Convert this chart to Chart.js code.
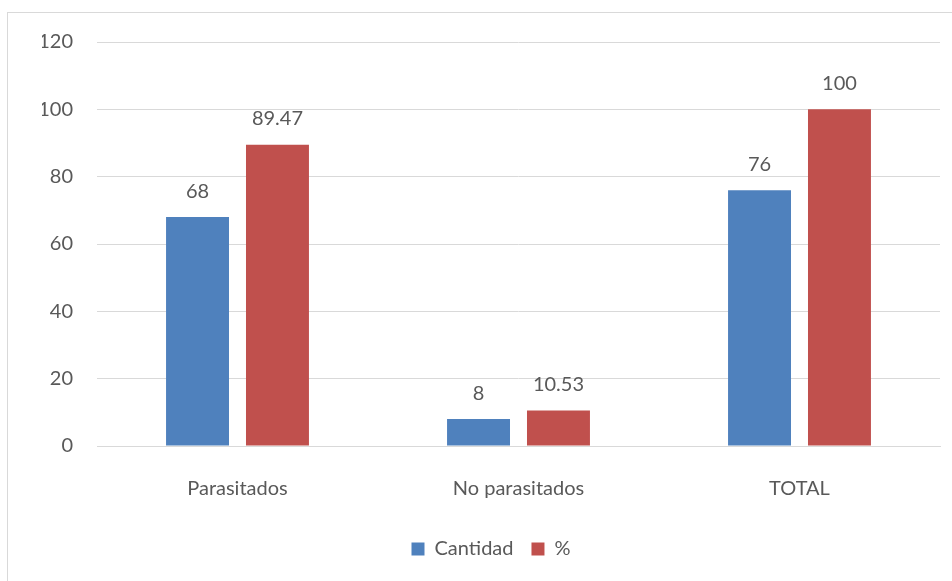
<!DOCTYPE html>
<html>
<head>
<meta charset="utf-8">
<script src="https://cdn.jsdelivr.net/npm/chart.js@4"></script>
<style>
  html, body { margin: 0; padding: 0; background: #fff; }
  #wrap { position: relative; width: 952px; height: 581px; overflow: hidden; }
  #frame { position: absolute; left: 7px; top: 12px; width: 1000px; height: 1000px; border: 1px solid #d9d9d9; box-sizing: border-box; }
  canvas { position: absolute; left: 0; top: 0; }
</style>
</head>
<body>
<div id="wrap">
  <div id="frame"></div>
  <canvas id="chart" width="952" height="581"></canvas>
</div>
<script>
const categories = ["Parasitados", "No parasitados", "TOTAL"];
const cantidad = [68, 8, 76];
const porcentaje = [89.47, 10.53, 100];
const yTicks = [0, 20, 40, 60, 80, 100, 120];

const FONT = "Lato, 'Open Sans', sans-serif";
const TEXT = "#595959";

// Writes each bar's value just above it
const valueLabels = {
  id: "valueLabels",
  afterDatasetsDraw(chart) {
    const ctx = chart.ctx;
    ctx.save();
    ctx.font = "20px " + FONT;
    ctx.fillStyle = TEXT;
    ctx.textAlign = "center";
    ctx.textBaseline = "bottom";
    chart.data.datasets.forEach((ds, i) => {
      chart.getDatasetMeta(i).data.forEach((bar, j) => {
        ctx.fillText(String(ds.data[j]), bar.x, bar.y - 16);
      });
    });
    ctx.restore();
  }
};

new Chart(document.getElementById("chart"), {
  type: "bar",
  data: {
    labels: categories,
    datasets: [
      { label: "Cantidad", data: cantidad, backgroundColor: "#4F81BD" },
      { label: "%", data: porcentaje, backgroundColor: "#C0504D" }
    ]
  },
  options: {
    responsive: false,
    animation: false,
    layout: { padding: { left: 42, right: 12, top: 42, bottom: 12 } },
    datasets: { bar: { categoryPercentage: 0.569, barPercentage: 0.7875 } },
    plugins: {
      legend: {
        position: "bottom",
        labels: {
          font: { family: FONT, size: 20 },
          color: TEXT,
          boxWidth: 13,
          boxHeight: 13,
          padding: 18
        }
      },
      tooltip: { enabled: false }
    },
    scales: {
      x: {
        grid: { display: false, drawTicks: false },
        border: { color: "#d9d9d9" },
        ticks: { font: { family: FONT, size: 20 }, color: TEXT, padding: 31 },
        afterFit(scale) { scale.height = 75; }
      },
      y: {
        min: 0,
        max: 120,
        afterBuildTicks(scale) { scale.ticks = yTicks.map(v => ({ value: v })); },
        grid: { color: "#d9d9d9", drawTicks: false },
        border: { display: false },
        ticks: { font: { family: FONT, size: 20 }, color: TEXT, padding: 24 },
        afterFit(scale) { scale.width = 55; }
      }
    }
  },
  plugins: [valueLabels]
});
</script>
</body>
</html>
